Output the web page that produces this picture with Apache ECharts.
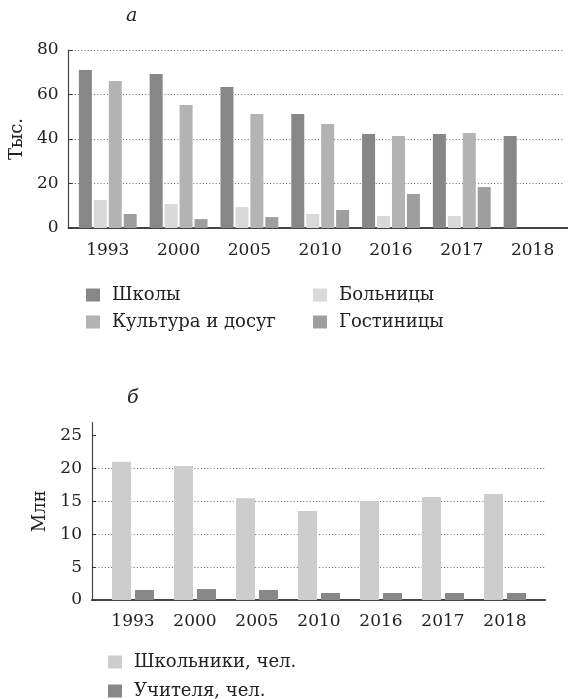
<!DOCTYPE html>
<html><head><meta charset="utf-8">
<script src="https://cdn.jsdelivr.net/npm/echarts@6/dist/echarts.min.js"></script>
<style>html,body{margin:0;padding:0;background:#fff}#c{width:568px;height:699px}</style>
</head><body><div id="c"></div>
<script>
const years = ['1993','2000','2005','2010','2016','2017','2018'];
// Chart а (thousands)
const schools   = [71.0, 69.2, 63.4, 51.2, 42.2, 42.2, 41.3];
const hospitals = [12.6, 10.8, 9.4, 6.3, 5.4, 5.4, null];
const culture   = [66.1, 55.3, 51.2, 46.7, 41.3, 42.7, null];
const hotels    = [6.3, 4.0, 4.9, 8.1, 15.3, 18.4, null];
const ticksA = [0, 20, 40, 60, 80];
// Chart б (millions)
const pupils   = [21.05, 20.4, 15.5, 13.55, 15.07, 15.68, 16.13];
const teachers = [1.52, 1.67, 1.52, 1.07, 1.07, 1.07, 1.07];
const ticksB = [0, 5, 10, 15, 20, 25];

const FONT = "'DejaVu Serif','Liberation Serif',serif";
const TXT = '#222';
const TICK_FS = 17, LEG_FS = 18;
const grid = (o) => Object.assign({containLabel:false}, o);
const axisLineStyle = {color:'#444', width:1.2};
const splitStyle = {color:'#666', width:1, type:[1,2.2]};

const legendItem = (name, left, top) => ({
  data:[name], left:left, top:top, padding:0, selectedMode:false,
  itemWidth:14, itemHeight:13, icon:'rect', itemGap:0,
  textStyle:{fontFamily:FONT, fontSize:LEG_FS, color:TXT, padding:[0,0,0,7]}
});

const option = {
  animation:false,
  backgroundColor:'#fff',
  title:[
    {text:'а', left:121, top:2, textStyle:{fontFamily:FONT, fontSize:19, fontStyle:'italic', fontWeight:'normal', color:TXT}},
    {text:'б', left:122, top:384, textStyle:{fontFamily:FONT, fontSize:19, fontStyle:'italic', fontWeight:'normal', color:TXT}}
  ],
  grid:[
    grid({left:72.4, top:50, width:505.6, height:178}),   // 0 data а
    grid({left:68, top:50, width:495, height:178}),       // 1 frame а
    grid({left:102, top:422.6, width:434, height:177.4}), // 2 data б
    grid({left:92, top:422.6, width:453, height:177.4})   // 3 frame б
  ],
  xAxis:[
    {gridIndex:0, type:'category', data:years, boundaryGap:true,
     axisLine:{show:true, lineStyle:{color:'#444', width:2}}, axisTick:{show:false},
     axisLabel:{fontFamily:FONT, fontSize:TICK_FS, color:TXT, margin:14}},
    {gridIndex:1, type:'value', min:0, max:1, axisLabel:{show:false}, splitLine:{show:false},
     axisTick:{show:false}, axisLine:{show:true, lineStyle:{color:'#444', width:2}}},
    {gridIndex:2, type:'category', data:years, boundaryGap:true,
     axisLine:{show:true, lineStyle:{color:'#444', width:2}}, axisTick:{show:false},
     axisLabel:{fontFamily:FONT, fontSize:TICK_FS, color:TXT, margin:13}},
    {gridIndex:3, type:'value', min:0, max:1, axisLabel:{show:false}, splitLine:{show:false},
     axisTick:{show:false}, axisLine:{show:true, lineStyle:{color:'#444', width:2}}}
  ],
  yAxis:[
    {gridIndex:0, type:'value', min:0, max:80, show:false},
    {gridIndex:1, type:'value', min:ticksA[0], max:ticksA[ticksA.length-1], interval:20,
     axisLine:{show:true, lineStyle:axisLineStyle},
     axisTick:{show:true, inside:true, length:4, lineStyle:{color:'#333'}},
     axisLabel:{fontFamily:FONT, fontSize:TICK_FS, color:TXT, margin:10},
     splitLine:{show:true, showMinLine:false, lineStyle:splitStyle},
     name:'Тыс.', nameLocation:'middle', nameRotate:90, nameGap:40,
     nameTextStyle:{fontFamily:FONT, fontSize:LEG_FS, color:TXT}},
    {gridIndex:2, type:'value', min:0, max:27, show:false},
    {gridIndex:3, type:'value', min:0, max:27, interval:5,
     axisLine:{show:true, lineStyle:axisLineStyle},
     axisTick:{show:true, inside:true, length:4, customValues:ticksB, lineStyle:{color:'#333'}},
     axisLabel:{fontFamily:FONT, fontSize:TICK_FS, color:TXT, margin:10, customValues:ticksB},
     splitLine:{show:true, showMinLine:false, showMaxLine:false, lineStyle:splitStyle},
     name:'Млн', nameLocation:'middle', nameRotate:90, nameGap:40,
     nameTextStyle:{fontFamily:FONT, fontSize:LEG_FS, color:TXT}}
  ],
  legend:[
    legendItem('Школы', 86, 286),
    legendItem('Больницы', 313, 286),
    legendItem('Культура и досуг', 86, 313),
    legendItem('Гостиницы', 313, 313),
    legendItem('Школьники, чел.', 108, 653),
    legendItem('Учителя, чел.', 108, 682)
  ],
  series:[
    {name:'Школы', type:'bar', xAxisIndex:0, yAxisIndex:0, data:schools, barWidth:13, barGap:'15%', itemStyle:{color:'#878787'}},
    {name:'Больницы', type:'bar', xAxisIndex:0, yAxisIndex:0, data:hospitals, barWidth:13, barGap:'15%', itemStyle:{color:'#d9d9d9'}},
    {name:'Культура и досуг', type:'bar', xAxisIndex:0, yAxisIndex:0, data:culture, barWidth:13, barGap:'15%', itemStyle:{color:'#b3b3b3'}},
    {name:'Гостиницы', type:'bar', xAxisIndex:0, yAxisIndex:0, data:hotels, barWidth:13, barGap:'15%', itemStyle:{color:'#9e9e9e'}},
    {name:'Школьники, чел.', type:'bar', xAxisIndex:2, yAxisIndex:2, data:pupils, barWidth:19, barGap:'21%', itemStyle:{color:'#cdcdcd'}},
    {name:'Учителя, чел.', type:'bar', xAxisIndex:2, yAxisIndex:2, data:teachers, barWidth:19, barGap:'21%', itemStyle:{color:'#888888'}}
  ]
};
const chart = echarts.init(document.getElementById('c'), null, {renderer:'canvas'});
chart.setOption(option);
</script></body></html>
